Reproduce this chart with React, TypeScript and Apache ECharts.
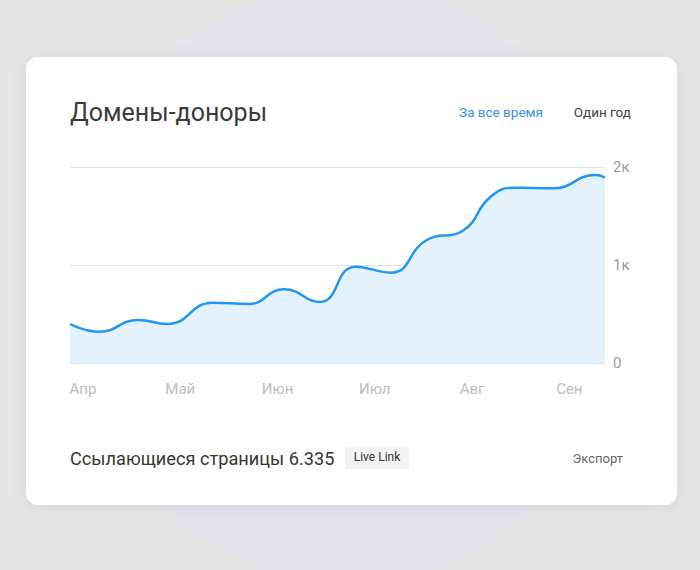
import React, { useEffect, useRef } from "react";
import * as echarts from "echarts";

// Data
const dayIndex = [0, 9, 21, 30, 44, 55, 66, 77, 88, 99, 110, 121, 130, 138, 149, 162, 165];
const donorDomains = [398, 320, 439, 398, 615, 602, 752, 622, 983, 922, 1255, 1347, 1704, 1789, 1782, 1918, 1895];
const monthTickDays = [4, 34, 64, 94, 124, 154];
const monthLabels = ["Апр", "Май", "Июн", "Июл", "Авг", "Сен"];
const yTickValues = [0, 1000, 2000];
const yTickLabels = ["0", "1к", "2к"];

const titleText = "Домены-доноры";
const rangeAll = "За все время";
const rangeYear = "Один год";
const footerText = "Ссылающиеся страницы 6.335";
const badgeText = "Live Link";
const exportText = "Экспорт";

const FONT = "Roboto, 'Noto Sans', sans-serif";

export default function App() {
  const ref = useRef<HTMLDivElement>(null);

  useEffect(() => {
    if (!ref.current) return;
    const chart = echarts.init(ref.current, undefined, { renderer: "svg" });
    const seriesData = dayIndex.map((d, i) => [d, donorDomains[i]]);
    const option: any = {
      animation: false,
      backgroundColor: "#e6e6e6",
      textStyle: { fontFamily: FONT },
      grid: {
        left: 70,
        right: 95,
        top: 167,
        bottom: 207,
        containLabel: false,
        outerBoundsMode: "none",
      },
      xAxis: {
        type: "value",
        min: 0,
        max: 165,
        axisLine: { show: false },
        axisTick: { show: false },
        splitLine: { show: false },
        axisLabel: {
          customValues: monthTickDays,
          formatter: (v: number) => {
            const idx = monthTickDays.indexOf(v);
            return idx >= 0 ? monthLabels[idx] : "";
          },
          color: "#bdbdbd",
          fontSize: 15,
          fontFamily: FONT,
          margin: 18,
        },
      },
      yAxis: {
        type: "value",
        position: "right",
        min: 0,
        max: 2000,
        interval: 1000,
        axisLine: { show: false },
        axisTick: { show: false },
        splitLine: { show: true, lineStyle: { color: "#e3e3e3", width: 1 } },
        axisLabel: {
          formatter: (v: number) => {
            const idx = yTickValues.indexOf(v);
            return idx >= 0 ? yTickLabels[idx] : "";
          },
          color: "#9a9a9a",
          fontSize: 15,
          fontFamily: FONT,
          margin: 8,
        },
      },
      series: [
        {
          type: "line",
          data: seriesData,
          smooth: 0.5,
          showSymbol: false,
          lineStyle: { color: "#2196f3", width: 2.5 },
          areaStyle: { color: "#e3f2fd", opacity: 1 },
          z: 3,
        },
      ],
      graphic: [
        {
          type: "ellipse",
          z: -10,
          shape: { cx: 348, cy: 284, rx: 275, ry: 300 },
          style: { fill: "#e2e6ec" },
          silent: true,
        },
        {
          type: "rect",
          z: -9,
          shape: { x: 26, y: 57, width: 651, height: 448, r: 12 },
          style: {
            fill: "#ffffff",
            shadowBlur: 18,
            shadowColor: "rgba(0,0,0,0.08)",
            shadowOffsetY: 2,
          },
          silent: true,
        },
        {
          type: "text",
          z: 10,
          x: 70,
          y: 112,
          style: {
            text: titleText,
            fontSize: 25,
            fontFamily: FONT,
            fill: "#3a3a3a",
            align: "left",
            verticalAlign: "middle",
          },
        },
        {
          type: "text",
          z: 10,
          x: 543,
          y: 112,
          style: {
            text: rangeAll,
            fontSize: 13.5,
            fontFamily: FONT,
            fill: "#3b8fe8",
            align: "right",
            verticalAlign: "middle",
          },
        },
        {
          type: "text",
          z: 10,
          x: 631,
          y: 112,
          style: {
            text: rangeYear,
            fontSize: 13.5,
            fontFamily: FONT,
            fill: "#444444",
            align: "right",
            verticalAlign: "middle",
          },
        },
        {
          type: "text",
          z: 10,
          x: 70,
          y: 458,
          style: {
            text: footerText,
            fontSize: 18.2,
            fontFamily: FONT,
            fill: "#363636",
            align: "left",
            verticalAlign: "middle",
          },
        },
        {
          type: "rect",
          z: 9,
          shape: { x: 345, y: 447, width: 64, height: 22, r: 2 },
          style: { fill: "#f3f3f3" },
        },
        {
          type: "text",
          z: 10,
          x: 377,
          y: 457,
          style: {
            text: badgeText,
            fontSize: 12,
            fontFamily: FONT,
            fill: "#333333",
            align: "center",
            verticalAlign: "middle",
          },
        },
        {
          type: "text",
          z: 10,
          x: 623,
          y: 458,
          style: {
            text: exportText,
            fontSize: 13,
            fontFamily: FONT,
            fill: "#666666",
            align: "right",
            verticalAlign: "middle",
          },
        },
      ],
    };
    chart.setOption(option);
    return () => chart.dispose();
  }, []);

  return (
    <div
      ref={ref}
      style={{ position: "fixed", left: 0, top: 0, width: 700, height: 570 }}
    />
  );
}
